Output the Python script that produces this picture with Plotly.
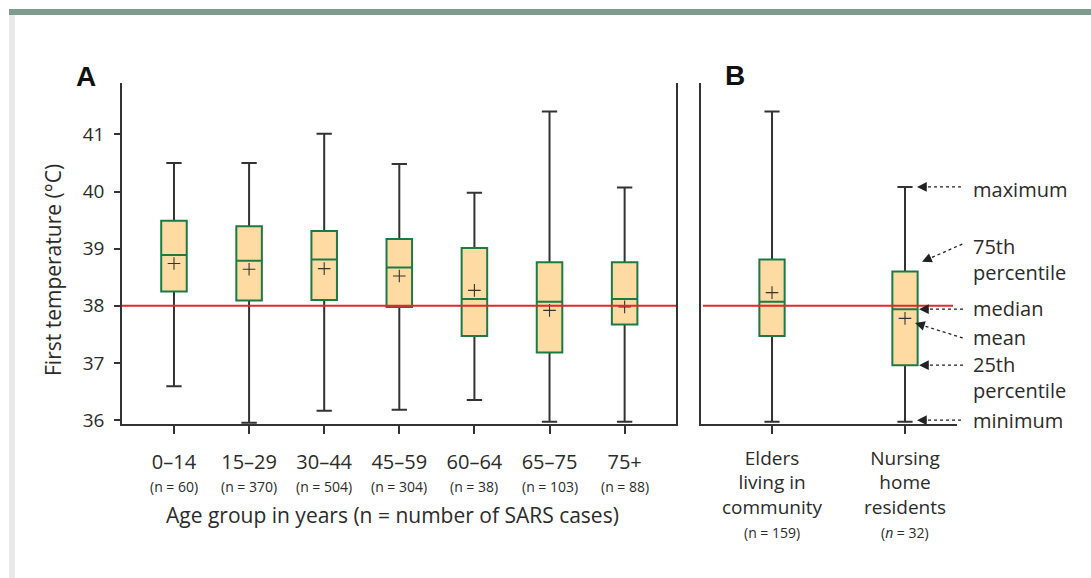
import plotly.graph_objects as go

W, H = 1091, 578

# ---------------- data ----------------
age_groups = ["0–14", "15–29", "30–44", "45–59", "60–64", "65–75", "75+"]
age_n = ["60", "370", "504", "304", "38", "103", "88"]
age_min = [36.59, 35.95, 36.16, 36.18, 36.35, 35.97, 35.97]
age_q1 = [38.25, 38.09, 38.10, 37.98, 37.47, 37.18, 37.67]
age_median = [38.89, 38.79, 38.81, 38.67, 38.12, 38.07, 38.12]
age_mean = [38.74, 38.64, 38.65, 38.52, 38.27, 37.92, 37.98]
age_q3 = [39.49, 39.39, 39.31, 39.17, 39.01, 38.76, 38.76]
age_max = [40.50, 40.50, 41.01, 40.48, 39.98, 41.40, 40.07]

elder_groups = ["Elders living in community", "Nursing home residents"]
elder_labels = ["Elders<br>living in<br>community", "Nursing<br>home<br>residents"]
elder_n = ["(n = 159)", "(<i>n</i> = 32)"]
elder_min = [35.97, 35.97]
elder_q1 = [37.47, 36.96]
elder_median = [38.07, 37.94]
elder_mean = [38.23, 37.78]
elder_q3 = [38.81, 38.60]
elder_max = [41.40, 40.08]

fever_threshold = 38.0
y_ticks = [36, 37, 38, 39, 40, 41]

# ---------------- style ----------------
FONT = "Open Sans"
TXT = "#2b2b2b"
AX = "#333333"
GREEN = "#1c7a45"
FILL = "#fddba3"
RED = "#e8262c"
Y_RANGE = [35.93, 41.90]


def px(x):
    return x / W


def py(y):
    return 1 - y / H


fig = go.Figure()


def add_group(cats, q1, med, q3, lo, hi, mean, xa, ya, width):
    # whiskers (dark grey)
    fig.add_trace(go.Box(
        x=cats, q1=med, median=med, q3=med, lowerfence=lo, upperfence=hi,
        width=width, whiskerwidth=0.6, line=dict(color=AX, width=2),
        fillcolor="rgba(0,0,0,0)", xaxis=xa, yaxis=ya, showlegend=False,
        hoverinfo="skip", boxpoints=False))
    # interquartile box (green outline, orange fill)
    fig.add_trace(go.Box(
        x=cats, q1=q1, median=med, q3=q3, lowerfence=q1, upperfence=q3,
        width=width, whiskerwidth=0, line=dict(color=GREEN, width=2),
        fillcolor=FILL, xaxis=xa, yaxis=ya, showlegend=False,
        hoverinfo="skip", boxpoints=False))
    # mean marker
    fig.add_trace(go.Scatter(
        x=cats, y=mean, mode="markers", xaxis=xa, yaxis=ya, showlegend=False,
        hoverinfo="skip",
        marker=dict(symbol="cross-thin", size=9, color=AX,
                    line=dict(color=AX, width=1.1))))


add_group(age_groups, age_q1, age_median, age_q3, age_min, age_max, age_mean,
          "x", "y", 0.34)
add_group(elder_groups, elder_q1, elder_median, elder_q3, elder_min, elder_max,
          elder_mean, "x2", "y2", 0.19)

y_dom = [py(424), py(83)]
common_x = dict(type="category", showline=True, linecolor=AX, linewidth=1.5,
                ticks="outside", ticklen=8, tickwidth=1.5, tickcolor=AX,
                showgrid=False, zeroline=False, automargin=False)

fig.update_layout(
    template="none",
    width=W, height=H,
    margin=dict(l=0, r=0, t=0, b=0, pad=0),
    paper_bgcolor="white", plot_bgcolor="white",
    boxmode="overlay",
    showlegend=False,
    font=dict(family=FONT, color=TXT),
    xaxis=dict(domain=[px(122), px(676)], range=[-0.692, 6.684], anchor="y",
               tickvals=age_groups, ticktext=age_groups,
               tickfont=dict(family=FONT, size=20, color=TXT),
               ticklabelstandoff=11, **common_x),
    yaxis=dict(domain=y_dom, range=Y_RANGE, anchor="x", tickvals=y_ticks,
               showline=True, mirror=True, linecolor=AX, linewidth=1.5,
               ticks="outside", ticklen=6, tickwidth=1.5, tickcolor=AX,
               showgrid=False, zeroline=False, ticklabelstandoff=6,
               automargin=False,
               tickfont=dict(family=FONT, size=19, color=TXT)),
    xaxis2=dict(domain=[px(701), px(957)], range=[-0.534, 1.391], anchor="y2",
                tickvals=elder_groups, ticktext=elder_labels,
                tickfont=dict(family=FONT, size=19, color=TXT),
                ticklabelstandoff=8, **common_x),
    yaxis2=dict(domain=y_dom, range=Y_RANGE, anchor="x2", showline=True,
                linecolor=AX, linewidth=1.5, ticks="", showticklabels=False,
                showgrid=False, zeroline=False, automargin=False),
)

shapes = [
    # page decorations
    dict(type="rect", xref="paper", yref="paper", x0=px(9), x1=1,
         y0=py(15), y1=py(9), fillcolor="#7f9a8e", line=dict(width=0),
         layer="below"),
    dict(type="rect", xref="paper", yref="paper", x0=px(9), x1=px(15),
         y0=0, y1=py(15), fillcolor="#e8e8e8", line=dict(width=0),
         layer="below"),
    # 38 °C reference line
    dict(type="line", xref="x domain", yref="y", x0=0, x1=1,
         y0=fever_threshold, y1=fever_threshold,
         line=dict(color=RED, width=1.8), layer="above"),
    dict(type="line", xref="paper", yref="y2", x0=px(703), x1=px(953),
         y0=fever_threshold, y1=fever_threshold,
         line=dict(color=RED, width=1.8), layer="above"),
]

annotations = [
    dict(text="<b>A</b>", xref="paper", yref="paper", x=px(86), y=py(76),
         xanchor="center", yanchor="middle", showarrow=False,
         font=dict(family="Liberation Sans", size=28, color="#111")),
    dict(text="<b>B</b>", xref="paper", yref="paper", x=px(735), y=py(75),
         xanchor="center", yanchor="middle", showarrow=False,
         font=dict(family="Liberation Sans", size=28, color="#111")),
    dict(text="Age group in years (n = number of SARS cases)", xref="paper",
         yref="paper", x=px(392), y=py(515), xanchor="center",
         yanchor="middle", showarrow=False,
         font=dict(family=FONT, size=21, color=TXT)),
    dict(text="First temperature (°C)", xref="paper", yref="paper",
         x=px(53), y=py(270), xanchor="center", yanchor="middle",
         textangle=-90, showarrow=False,
         font=dict(family=FONT, size=21, color=TXT)),
]

# sample-size lines under the category labels
for g, n in zip(age_groups, age_n):
    annotations.append(dict(
        text=f"(n = {n})", xref="x", yref="paper", x=g, y=py(486),
        xanchor="center", yanchor="middle", showarrow=False,
        font=dict(family=FONT, size=14, color=TXT)))
for g, n in zip(elder_groups, elder_n):
    annotations.append(dict(
        text=n, xref="x2", yref="paper", x=g, y=py(532),
        xanchor="center", yanchor="middle", showarrow=False,
        font=dict(family=FONT, size=14, color=TXT)))

# key annotations for the nursing-home box (panel B)
NH = 1  # category index of nursing home residents
cx = 701 + (NH - (-0.534)) / (1.391 + 0.534) * 256  # pixel centre of the box
TAIL_X = 963
TEXT_X = 971
HEAD = 11
key_items = [
    # label, value, tip dx, tip dy(up), tail dy(up), text dy(up)
    ("maximum", elder_max[1], 12, 0, 0, -3),
    ("75th<br>percentile", elder_q3[1], 17, 9.7, 27.7, 11.7),
    ("median", elder_median[1], 14, 0, 0, 1),
    ("mean", elder_mean[1], 10, -4.7, -19.7, -18.7),
    ("25th<br>percentile", elder_q1[1], 14, 0, 0, -12),
    ("minimum", elder_min[1], 12, 1.5, 1.5, 1.5),
]
for label, val, tdx, tdy, taildy, textdy in key_items:
    tip_x = cx + tdx
    dx = TAIL_X - tip_x
    dy = taildy - tdy
    L = (dx * dx + dy * dy) ** 0.5
    hx, hy = dx / L * HEAD, dy / L * HEAD
    annotations.append(dict(
        text="", xref="x2", yref="y2", x=NH, y=val, xshift=tdx, yshift=tdy,
        showarrow=True, arrowhead=2, arrowsize=1.5, arrowwidth=1.3,
        arrowcolor="#222", ax=hx, ay=-hy, standoff=0, startstandoff=0))
    shapes.append(dict(
        type="line", xref="paper", yref="y2", ysizemode="pixel", yanchor=val,
        x0=px(tip_x + hx), x1=px(TAIL_X), y0=tdy + hy, y1=taildy,
        line=dict(color="#222", width=1.3, dash="dot"), layer="above"))
    annotations.append(dict(
        text=label, xref="paper", yref="y2", x=px(TEXT_X), y=val,
        yshift=textdy, xanchor="left", yanchor="middle", align="left",
        showarrow=False, font=dict(family=FONT, size=20, color=TXT)))

fig.update_layout(shapes=shapes, annotations=annotations)

fig.write_html("out.html", config={"displayModeBar": False},
               post_script="document.body.style.margin='0';")
